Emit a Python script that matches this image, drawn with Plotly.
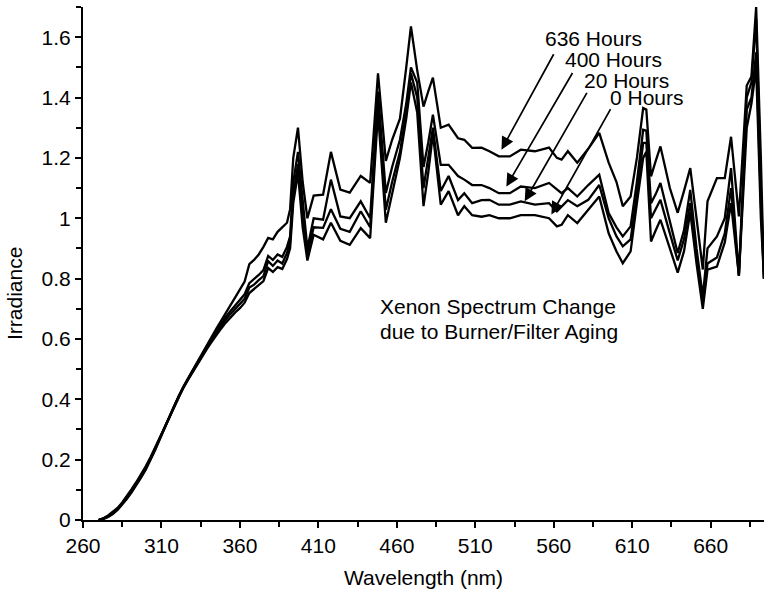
import plotly.graph_objects as go

# ---- data ----
wavelength = [270, 273, 276, 279, 282, 285, 288, 291, 294, 297, 300, 303, 306, 309, 312, 315, 318,
              321, 324, 327, 330, 333, 336, 339, 342, 345, 348, 351, 354, 357, 360, 363, 366, 369,
              372, 375, 378, 381, 384, 387, 390, 392,
              394, 397, 400, 403, 407, 413, 418, 424, 430, 437, 443, 448, 453, 457, 462, 466, 469,
              473, 477, 480, 483, 488, 493, 499, 503, 508, 514, 519, 525, 532, 539, 548, 557, 562,
              565, 569, 575, 582, 589, 595, 600, 604, 609, 613, 617, 619, 622, 625, 628, 634, 639,
              643, 647, 651, 655, 658, 664, 669, 673, 678, 683, 686, 689, 692, 694]

h636 = [0.0, 0.003, 0.010, 0.020, 0.033, 0.050, 0.070, 0.092, 0.115, 0.140, 0.167, 0.197, 0.232,
        0.268, 0.305, 0.340, 0.376, 0.410, 0.442, 0.470, 0.498, 0.524, 0.552, 0.580, 0.606, 0.634,
        0.660, 0.688, 0.712, 0.738, 0.762, 0.790, 0.848, 0.862, 0.880, 0.905, 0.935, 0.930, 0.955,
        0.970, 0.985, 1.03,
        1.20, 1.30, 1.12, 1.00, 1.075, 1.078, 1.22, 1.095, 1.085, 1.14, 1.117, 1.48, 1.19, 1.26,
        1.33, 1.50, 1.636, 1.49, 1.37, 1.42, 1.466, 1.30, 1.31, 1.265, 1.26, 1.233, 1.234, 1.222,
        1.205, 1.205, 1.227, 1.222, 1.234, 1.20, 1.194, 1.222, 1.184, 1.23, 1.283, 1.184, 1.12,
        1.04, 1.072, 1.20, 1.365, 1.36, 1.139, 1.19, 1.238, 1.10, 1.018, 1.09, 1.166, 1.00, 0.83,
        1.056, 1.133, 1.133, 1.27, 1.006, 1.44, 1.47, 1.70, 1.20, 0.80]

h400 = [0.0, 0.004, 0.012, 0.022, 0.035, 0.053, 0.073, 0.096, 0.119, 0.144, 0.171, 0.200, 0.234,
        0.270, 0.307, 0.342, 0.377, 0.410, 0.441, 0.469, 0.496, 0.521, 0.549, 0.576, 0.600, 0.626,
        0.650, 0.673, 0.693, 0.712, 0.728, 0.748, 0.785, 0.798, 0.812, 0.828, 0.875, 0.862, 0.880,
        0.872, 0.905, 0.94,
        1.12, 1.22, 1.05, 0.90, 1.00, 0.995, 1.128, 1.006, 1.00, 1.056, 1.00, 1.42, 1.084, 1.17,
        1.26, 1.38, 1.50, 1.45, 1.17, 1.25, 1.343, 1.177, 1.177, 1.14, 1.128, 1.11, 1.11, 1.10,
        1.083, 1.083, 1.105, 1.10, 1.117, 1.095, 1.083, 1.10, 1.072, 1.11, 1.144, 1.017, 0.97,
        0.94, 0.973, 1.12, 1.293, 1.29, 1.05, 1.08, 1.117, 0.99, 0.885, 0.96, 1.094, 0.90, 0.74,
        0.90, 0.94, 1.00, 1.166, 0.81, 1.40, 1.45, 1.66, 1.10, 0.80]

h20 = [0.0, 0.005, 0.013, 0.024, 0.037, 0.055, 0.076, 0.099, 0.122, 0.147, 0.174, 0.204, 0.238,
       0.273, 0.309, 0.343, 0.377, 0.409, 0.440, 0.467, 0.494, 0.519, 0.546, 0.572, 0.596, 0.620,
       0.642, 0.664, 0.683, 0.700, 0.715, 0.733, 0.770, 0.780, 0.795, 0.808, 0.858, 0.842, 0.860,
       0.850, 0.885, 0.92,
       1.08, 1.18, 1.00, 0.88, 0.97, 0.968, 1.03, 0.965, 0.955, 1.023, 0.97, 1.38, 1.028, 1.12,
       1.22, 1.35, 1.48, 1.40, 1.10, 1.20, 1.30, 1.09, 1.14, 1.06, 1.083, 1.05, 1.06, 1.061,
       1.045, 1.045, 1.056, 1.045, 1.05, 1.023, 1.04, 1.06, 1.04, 1.061, 1.11, 1.00, 0.94,
       0.907, 0.93, 1.08, 1.25, 1.25, 1.00, 1.03, 1.061, 0.95, 0.86, 0.93, 1.05, 0.88, 0.72,
       0.85, 0.87, 0.95, 1.10, 0.81, 1.36, 1.40, 1.55, 1.05, 0.80]

h0 = [0.0, 0.006, 0.015, 0.026, 0.040, 0.058, 0.079, 0.102, 0.126, 0.151, 0.178, 0.208, 0.241,
      0.276, 0.311, 0.344, 0.377, 0.408, 0.438, 0.465, 0.491, 0.516, 0.542, 0.567, 0.590, 0.613,
      0.634, 0.654, 0.672, 0.688, 0.702, 0.720, 0.752, 0.765, 0.778, 0.792, 0.835, 0.822, 0.838,
      0.832, 0.865, 0.90,
      1.05, 1.15, 0.97, 0.86, 0.945, 0.93, 0.985, 0.925, 0.912, 0.967, 0.934, 1.35, 0.985, 1.08,
      1.20, 1.33, 1.45, 1.35, 1.04, 1.15, 1.28, 1.045, 1.09, 1.01, 1.04, 1.01, 1.005, 1.01,
      1.00, 1.00, 1.01, 1.01, 1.00, 0.973, 0.978, 1.01, 0.984, 1.028, 1.072, 0.95, 0.89,
      0.851, 0.89, 1.05, 1.20, 1.22, 0.923, 0.96, 0.995, 0.90, 0.82, 0.89, 1.02, 0.85, 0.70,
      0.83, 0.84, 0.92, 1.05, 0.81, 1.30, 1.38, 1.50, 1.00, 0.80]

series_names = ["636 Hours", "400 Hours", "20 Hours", "0 Hours"]
series_values = [h636, h400, h20, h0]

x_ticks = [260, 310, 360, 410, 460, 510, 560, 610, 660]
y_ticks = [0, 0.2, 0.4, 0.6, 0.8, 1.0, 1.2, 1.4, 1.6]
y_tick_labels = ["0", "0.2", "0.4", "0.6", "0.8", "1", "1.2", "1.4", "1.6"]

# arrow tips (data coords) and label anchors for the hour labels
arrow_tips = [(526.7, 1.227), (529.8, 1.105), (541.5, 1.056), (558.5, 1.012)]
arrow_tails_px = [(53, -97), (67, -115), (63, -110), (60, -107)]
label_pos = [(553.6, 1.594), (566.4, 1.526), (578.7, 1.456), (595.2, 1.399)]

title_text = ["Xenon Spectrum Change", "due to Burner/Filter Aging"]

FONT = "Liberation Sans, Arial, sans-serif"
FS = 21

fig = go.Figure()
for name, vals in zip(series_names, series_values):
    fig.add_trace(go.Scatter(x=wavelength, y=vals, mode="lines", name=name,
                             line=dict(color="black", width=2.3), showlegend=False))

for (tx, ty), (ax, ay) in zip(arrow_tips, arrow_tails_px):
    fig.add_annotation(x=tx, y=ty, xref="x", yref="y", text="", showarrow=True,
                       ax=ax, ay=ay, arrowhead=2, arrowsize=1.5, arrowwidth=1.7,
                       arrowcolor="black")

for name, (lx, ly) in zip(series_names, label_pos):
    fig.add_annotation(x=lx, y=ly, xref="x", yref="y", text=name, showarrow=False,
                       xanchor="left", yanchor="middle", borderpad=0,
                       font=dict(size=FS, color="black"))

fig.add_annotation(x=447.9, y=0.707, xref="x", yref="y", text=title_text[0], showarrow=False,
                   xanchor="left", yanchor="middle", font=dict(size=FS, color="black"))
fig.add_annotation(x=447.9, y=0.625, xref="x", yref="y", text=title_text[1], showarrow=False,
                   xanchor="left", yanchor="middle", font=dict(size=FS, color="black"))

# axis titles
fig.add_annotation(x=0.5, y=0, xref="paper", yref="paper", text="Wavelength (nm)",
                   showarrow=False, xanchor="center", yanchor="middle", yshift=-57,
                   font=dict(size=FS, color="black"))
fig.add_annotation(x=0, y=0.4415, xref="paper", yref="paper", text="Irradiance",
                   showarrow=False, xanchor="center", yanchor="middle", xshift=-68.5,
                   textangle=-90, font=dict(size=FS, color="black"))

fig.update_xaxes(range=[260, 694], tickvals=x_ticks, ticktext=[str(v) for v in x_ticks],
                 showgrid=False, zeroline=False, showline=True, linecolor="black", linewidth=2,
                 ticks="outside", ticklen=6, tickwidth=2, tickcolor="black",
                 minor=dict(ticks="outside", ticklen=5, tickwidth=1.5, tickcolor="black", dtick=25,
                            tick0=260, showgrid=False),
                 tickfont=dict(size=FS, color="black"))
fig.update_yaxes(range=[0, 1.70], tickvals=y_ticks, ticktext=y_tick_labels,
                 showgrid=False, zeroline=False, showline=True, linecolor="black", linewidth=2,
                 ticks="outside", ticklen=6, tickwidth=2, tickcolor="black",
                 minor=dict(ticks="outside", ticklen=5, tickwidth=1.5, tickcolor="black", dtick=0.1,
                            tick0=0, showgrid=False),
                 tickfont=dict(size=FS, color="black"))

fig.update_layout(width=764, height=592, margin=dict(l=83, r=0, t=7, b=72),
                  plot_bgcolor="white", paper_bgcolor="white",
                  font=dict(family=FONT, size=FS, color="black"))

fig.write_html("out.html", config={"displayModeBar": False},
               post_script="document.body.style.margin='0';document.body.style.overflow='hidden';")
